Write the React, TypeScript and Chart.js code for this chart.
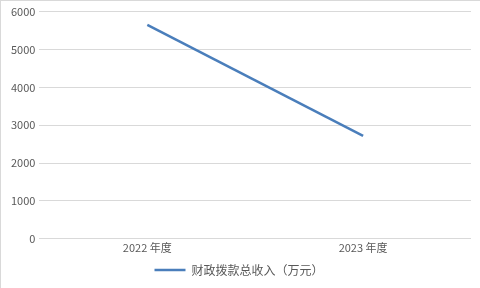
import React, { useEffect, useRef } from "react";
import { Chart, registerables } from "chart.js";

Chart.register(...registerables);

const categories = ["2022 年度", "2023 年度"];
const seriesName = "财政拨款总收入（万元）";
const seriesValues = [5650, 2720];
const yTicks = [0, 1000, 2000, 3000, 4000, 5000, 6000];

const FONT = "'Noto Sans CJK SC', 'Liberation Sans', sans-serif";

export default function App() {
  const ref = useRef<HTMLCanvasElement | null>(null);
  useEffect(() => {
    if (!ref.current) return;
    const chart = new Chart(ref.current, {
      type: "line",
      data: {
        labels: categories,
        datasets: [
          {
            label: seriesName,
            data: seriesValues,
            borderColor: "#4a7ebb",
            backgroundColor: "#4a7ebb",
            borderWidth: 2.5,
            pointRadius: 0,
            pointHoverRadius: 0,
            tension: 0,
          },
        ],
      },
      options: {
        animation: false,
        responsive: false,
        maintainAspectRatio: false,
        layout: { padding: { top: 4, right: 9, left: 6, bottom: 2 } },
        plugins: {
          tooltip: { enabled: false },
          legend: {
            position: "bottom",
            labels: {
              usePointStyle: true,
              pointStyle: "line",
              pointStyleWidth: 31,
              color: "#595959",
              font: { family: FONT, size: 12 },
              padding: 8,
            },
          },
        },
        scales: {
          x: {
            offset: true,
            grid: { display: false, drawTicks: false },
            border: { display: false },
            ticks: { color: "#595959", font: { family: FONT, size: 11 }, padding: 2 },
          },
          y: {
            min: 0,
            max: 6000,
            afterBuildTicks: (axis: any) => {
              axis.ticks = yTicks.map((v) => ({ value: v }));
            },
            grid: { color: "#d9d9d9", drawTicks: false, lineWidth: 1 },
            border: { display: false },
            ticks: {
              color: "#595959",
              font: { family: FONT, size: 11 },
              padding: 4,
              callback: (v: any) => String(v),
            },
          },
        },
      },
    });
    return () => chart.destroy();
  }, []);
  return (
    <div
      style={{
        position: "fixed",
        left: 0,
        top: 0,
        width: 480,
        height: 288,
        boxSizing: "border-box",
        borderTop: "1px solid #d9d9d9",
        borderLeft: "1px solid #d9d9d9",
        background: "#fff",
      }}
    >
      <canvas ref={ref} width={479} height={287} style={{ display: "block" }} />
    </div>
  );
}
